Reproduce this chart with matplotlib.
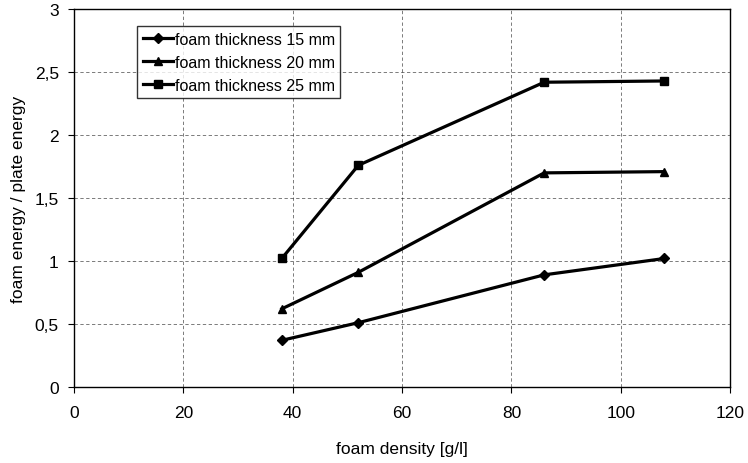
import matplotlib
matplotlib.use("Agg")
import matplotlib.pyplot as plt

plt.rcParams["font.family"] = ["Liberation Sans", "DejaVu Sans"]

density = [38, 52, 86, 108]
ratio_15 = [0.37, 0.51, 0.89, 1.02]
ratio_20 = [0.62, 0.91, 1.70, 1.71]
ratio_25 = [1.02, 1.76, 2.42, 2.43]
labels = ["foam thickness 15 mm", "foam thickness 20 mm", "foam thickness 25 mm"]
markers = ["D", "^", "s"]
x_ticks = [0, 20, 40, 60, 80, 100, 120]
y_ticks = [0, 0.5, 1, 1.5, 2, 2.5, 3]
y_labels = ["0", "0,5", "1", "1,5", "2", "2,5", "3"]

fig = plt.figure(figsize=(7.48, 4.64), dpi=100)
ax = fig.add_axes([0.099, 0.164, 0.877, 0.814])

for ys, m, lab in zip([ratio_15, ratio_20, ratio_25], markers, labels):
    ms = 5 if m == "D" else 6
    ax.plot(density, ys, color="black", linewidth=2.3, marker=m, markersize=ms, label=lab)

ax.set_xlim(0, 120)
ax.set_ylim(0, 3)
ax.set_xticks(x_ticks)
ax.set_yticks(y_ticks)
ax.set_yticklabels(y_labels)
ax.tick_params(labelsize=12.5, direction="out", length=4, color="black")
ax.tick_params(axis="x", pad=9)
ax.tick_params(axis="y", pad=7)
ax.grid(True, color="black", linestyle=(0, (4, 3)), linewidth=0.6, alpha=0.6)
for s in ax.spines.values():
    s.set_color("black")
    s.set_linewidth(1)

ax.set_xlabel("foam density [g/l]", fontsize=12.5, labelpad=15)
ax.set_ylabel("foam energy / plate energy", fontsize=12.5, labelpad=6)

leg = ax.legend(loc="upper left", bbox_to_anchor=(0.096, 0.955), fontsize=11.5,
                frameon=True, fancybox=False, handlelength=1.9, handletextpad=0.1,
                borderpad=0.35, labelspacing=0.5, borderaxespad=0)
leg.get_frame().set_edgecolor("black")
leg.get_frame().set_linewidth(1)

fig.savefig("out.png", dpi=100)
